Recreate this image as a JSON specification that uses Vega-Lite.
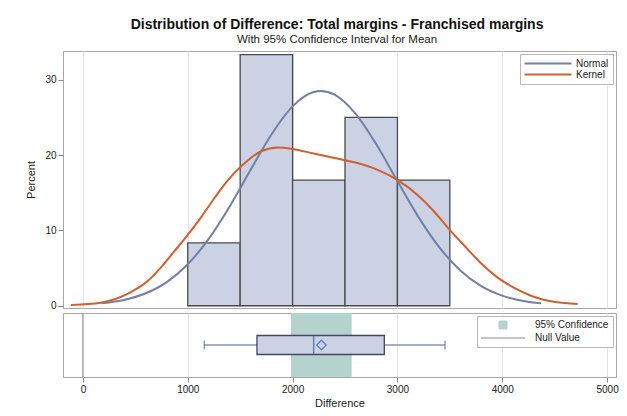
{
  "$schema": "https://vega.github.io/schema/vega-lite/v6.json",
  "padding": {"left": 25, "top": 18, "right": 5, "bottom": 0},
  "config": {
    "font": "Liberation Sans",
    "view": {"stroke": "#a8a8a8", "strokeWidth": 1},
    "axis": {"labelFont": "Liberation Sans", "titleFont": "Liberation Sans", "labelColor": "#222", "titleColor": "#222", "tickColor": "#888", "labelFontSize": 10, "titleFontSize": 11, "titleFontWeight": "normal", "domain": false, "gridColor": "#e4e4e4"},
    "title": {"font": "Liberation Sans", "subtitleFont": "Liberation Sans"}
  },
  "title": {
    "text": "Distribution of Difference: Total margins - Franchised margins",
    "subtitle": "With 95% Confidence Interval for Mean",
    "fontSize": 14, "fontWeight": "bold", "color": "#111",
    "subtitleFontSize": 11.5, "subtitleColor": "#222", "subtitlePadding": 2,
    "anchor": "middle", "offset": 5, "dx": 15
  },
  "datasets": {
    "hist": [
      {"lo": 1000, "hi": 1500, "pct": 8.33},
      {"lo": 1500, "hi": 2000, "pct": 33.33},
      {"lo": 2000, "hi": 2500, "pct": 16.67},
      {"lo": 2500, "hi": 3000, "pct": 25.0},
      {"lo": 3000, "hi": 3500, "pct": 16.67}
    ],
    "curves": [
      {"curve": "Normal", "x": 180, "pct": 0.33},
      {"curve": "Normal", "x": 400, "pct": 0.80},
      {"curve": "Normal", "x": 600, "pct": 1.66},
      {"curve": "Normal", "x": 800, "pct": 3.14},
      {"curve": "Normal", "x": 1000, "pct": 5.50},
      {"curve": "Normal", "x": 1200, "pct": 8.87},
      {"curve": "Normal", "x": 1400, "pct": 13.17},
      {"curve": "Normal", "x": 1600, "pct": 18.03},
      {"curve": "Normal", "x": 1800, "pct": 22.76},
      {"curve": "Normal", "x": 2000, "pct": 26.45},
      {"curve": "Normal", "x": 2200, "pct": 28.36},
      {"curve": "Normal", "x": 2270, "pct": 28.5},
      {"curve": "Normal", "x": 2400, "pct": 28.02},
      {"curve": "Normal", "x": 2600, "pct": 25.5},
      {"curve": "Normal", "x": 2800, "pct": 21.4},
      {"curve": "Normal", "x": 3000, "pct": 16.54},
      {"curve": "Normal", "x": 3200, "pct": 11.79},
      {"curve": "Normal", "x": 3400, "pct": 7.74},
      {"curve": "Normal", "x": 3600, "pct": 4.69},
      {"curve": "Normal", "x": 3800, "pct": 2.61},
      {"curve": "Normal", "x": 4000, "pct": 1.34},
      {"curve": "Normal", "x": 4200, "pct": 0.64},
      {"curve": "Normal", "x": 4370, "pct": 0.32},
      {"curve": "Kernel", "x": -115, "pct": 0.1},
      {"curve": "Kernel", "x": 170, "pct": 0.4},
      {"curve": "Kernel", "x": 430, "pct": 1.6},
      {"curve": "Kernel", "x": 620, "pct": 3.3},
      {"curve": "Kernel", "x": 745, "pct": 5.1},
      {"curve": "Kernel", "x": 870, "pct": 7.2},
      {"curve": "Kernel", "x": 1000, "pct": 9.4},
      {"curve": "Kernel", "x": 1130, "pct": 11.8},
      {"curve": "Kernel", "x": 1250, "pct": 14.2},
      {"curve": "Kernel", "x": 1380, "pct": 16.6},
      {"curve": "Kernel", "x": 1510, "pct": 18.5},
      {"curve": "Kernel", "x": 1700, "pct": 20.5},
      {"curve": "Kernel", "x": 1860, "pct": 21.0},
      {"curve": "Kernel", "x": 2000, "pct": 20.8},
      {"curve": "Kernel", "x": 2200, "pct": 20.2},
      {"curve": "Kernel", "x": 2400, "pct": 19.6},
      {"curve": "Kernel", "x": 2600, "pct": 19.0},
      {"curve": "Kernel", "x": 2800, "pct": 18.1},
      {"curve": "Kernel", "x": 3000, "pct": 16.7},
      {"curve": "Kernel", "x": 3200, "pct": 14.6},
      {"curve": "Kernel", "x": 3350, "pct": 12.5},
      {"curve": "Kernel", "x": 3490, "pct": 10.2},
      {"curve": "Kernel", "x": 3650, "pct": 7.8},
      {"curve": "Kernel", "x": 3800, "pct": 5.6},
      {"curve": "Kernel", "x": 3950, "pct": 3.8},
      {"curve": "Kernel", "x": 4110, "pct": 2.4},
      {"curve": "Kernel", "x": 4280, "pct": 1.3},
      {"curve": "Kernel", "x": 4440, "pct": 0.66},
      {"curve": "Kernel", "x": 4600, "pct": 0.35},
      {"curve": "Kernel", "x": 4720, "pct": 0.22}
    ],
    "box": [
      {"var": "Difference", "wlo": 1158, "q1": 1660, "median": 2201, "mean": 2275, "q3": 2875, "whi": 3454}
    ],
    "ref": [
      {"item": "95% Confidence", "lo": 1985, "hi": 2564},
      {"item": "Null Value", "lo": 0, "hi": 0}
    ]
  },
  "resolve": {"scale": {"color": "independent"}, "legend": {"color": "independent"}},
  "spacing": 0,
  "vconcat": [
    {
      "width": 553,
      "height": 257,
      "layer": [
        {
          "data": {"name": "hist"},
          "mark": {"type": "bar", "fill": "#CAD2E4", "stroke": "#4a4a4a", "strokeWidth": 1.3},
          "encoding": {
            "x": {"field": "lo", "type": "quantitative", "scale": {"domain": [-190, 5085], "nice": false, "zero": false},
                  "axis": {"values": [0, 1000, 2000, 3000, 4000, 5000], "labels": false, "ticks": false, "tickSize": 0, "labelPadding": 0, "title": null, "grid": true, "minExtent": 0, "maxExtent": 0}},
            "x2": {"field": "hi"},
            "y": {"field": "pct", "type": "quantitative", "scale": {"domain": [-0.3, 33.8], "nice": false, "zero": false},
                  "axis": {"values": [0, 10, 20, 30], "title": "Percent", "grid": false, "tickSize": 5, "labelPadding": 2, "titlePadding": 8}},
            "y2": {"datum": 0}
          }
        },
        {
          "data": {"name": "curves"},
          "mark": {"type": "line", "interpolate": "monotone", "strokeWidth": 2},
          "encoding": {
            "x": {"field": "x", "type": "quantitative"},
            "y": {"field": "pct", "type": "quantitative"},
            "color": {"field": "curve", "type": "nominal",
                      "scale": {"domain": ["Normal", "Kernel"], "range": ["#7080A6", "#D0612F"]},
                      "legend": {"title": null, "orient": "top-right", "offset": 3, "symbolSize": 2209, "clipHeight": 11,
                                 "labelFontSize": 10, "labelColor": "#222", "labelOffset": 3, "padding": 4, "rowPadding": 0,
                                 "strokeColor": "#b8b8b8", "fillColor": "white",
                                 "encode": {"symbols": {"update": {
                                   "x": {"value": 24},
                                   "shape": {"value": "stroke"},
                                   "strokeWidth": {"value": 2},
                                   "fill": {"value": "transparent"},
                                   "stroke": {"signal": "datum.value === 'Normal' ? '#7080A6' : '#D0612F'"},
                                   "opacity": {"value": 1}
                                 }}}}}
          }
        }
      ]
    },
    {
      "width": 553,
      "height": 64,
      "layer": [
        {
          "data": {"name": "ref"},
          "transform": [{"filter": "datum.item === '95% Confidence'"}],
          "mark": {"type": "rect"},
          "encoding": {
            "x": {"field": "lo", "type": "quantitative", "scale": {"domain": [-190, 5085], "nice": false, "zero": false},
                  "axis": {"values": [0, 1000, 2000, 3000, 4000, 5000], "format": "d", "title": "Difference", "grid": true, "tickSize": 5, "labelPadding": 2, "titlePadding": 3}},
            "x2": {"field": "hi"},
            "color": {"field": "item", "type": "nominal",
                      "scale": {"domain": ["95% Confidence", "Null Value"], "range": ["#B4D3CC", "#8a8a8a"]},
                      "legend": {"title": null, "orient": "top-right", "offset": 3, "symbolSize": 64, "labelFontSize": 10, "labelColor": "#222",
                                 "labelOffset": 44, "padding": 4, "rowPadding": 2, "strokeColor": "#b8b8b8", "fillColor": "white",
                                 "encode": {"symbols": {"update": {
                                   "x": {"value": 22},
                                   "shape": {"signal": "datum.value === 'Null Value' ? 'stroke' : 'square'"},
                                   "size": {"signal": "datum.value === 'Null Value' ? 1936 : 64"},
                                   "fill": {"signal": "datum.value === 'Null Value' ? 'transparent' : '#B4D3CC'"},
                                   "stroke": {"signal": "datum.value === 'Null Value' ? '#8a8a8a' : '#333'"},
                                   "strokeWidth": {"value": 1},
                                   "opacity": {"value": 1}
                                 }}}}}
          }
        },
        {
          "data": {"name": "ref"},
          "transform": [{"filter": "datum.item === 'Null Value'"}],
          "mark": {"type": "rule", "strokeWidth": 1},
          "encoding": {
            "x": {"field": "lo", "type": "quantitative"},
            "color": {"field": "item", "type": "nominal"}
          }
        },
        {
          "data": {"name": "box"},
          "mark": {"type": "rule", "color": "#4A5C9C", "strokeWidth": 1.2},
          "encoding": {
            "x": {"field": "wlo", "type": "quantitative"},
            "x2": {"field": "whi"},
            "y": {"field": "var", "type": "nominal", "axis": null}
          }
        },
        {
          "data": {"name": "box"},
          "mark": {"type": "bar", "size": 19, "fill": "#CAD2E4", "stroke": "#44485e", "strokeWidth": 1.3},
          "encoding": {
            "x": {"field": "q1", "type": "quantitative"},
            "x2": {"field": "q3"},
            "y": {"field": "var", "type": "nominal"}
          }
        },
        {
          "data": {"name": "box"},
          "mark": {"type": "tick", "size": 19, "thickness": 1.5, "color": "#3F5DB0"},
          "encoding": {
            "x": {"field": "median", "type": "quantitative"},
            "y": {"field": "var", "type": "nominal"}
          }
        },
        {
          "data": {"name": "box"},
          "mark": {"type": "tick", "size": 9, "thickness": 1.3, "color": "#4A5C9C"},
          "encoding": {
            "x": {"field": "wlo", "type": "quantitative"},
            "y": {"field": "var", "type": "nominal"}
          }
        },
        {
          "data": {"name": "box"},
          "mark": {"type": "tick", "size": 9, "thickness": 1.3, "color": "#4A5C9C"},
          "encoding": {
            "x": {"field": "whi", "type": "quantitative"},
            "y": {"field": "var", "type": "nominal"}
          }
        },
        {
          "data": {"name": "box"},
          "mark": {"type": "point", "shape": "diamond", "size": 90, "filled": false, "color": "#3F5DB0", "strokeWidth": 1.3},
          "encoding": {
            "x": {"field": "mean", "type": "quantitative"},
            "y": {"field": "var", "type": "nominal"}
          }
        }
      ]
    }
  ]
}
